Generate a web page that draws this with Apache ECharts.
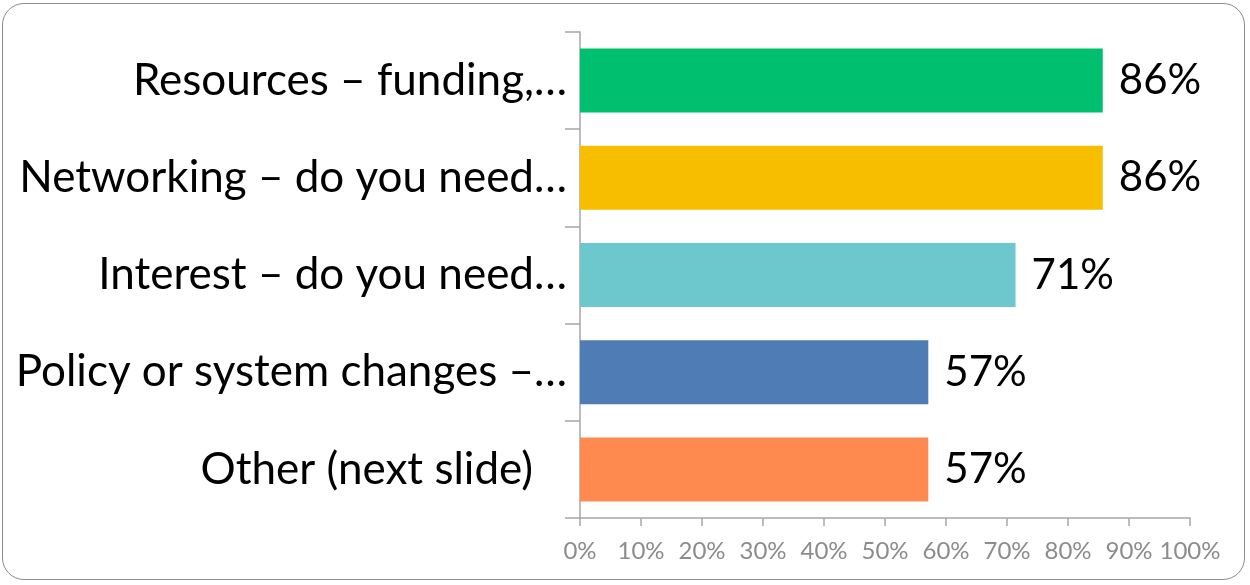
<!DOCTYPE html>
<html>
<head>
<meta charset="utf-8">
<script src="https://cdn.jsdelivr.net/npm/echarts@6/dist/echarts.min.js"></script>
<style>
html,body{margin:0;padding:0;background:#fff;}
#frame{position:absolute;left:2px;top:3px;width:1243px;height:577px;border:1.5px solid #8c8c8c;border-radius:22px;box-sizing:border-box;}
#chart{position:absolute;left:0;top:0;width:1250px;height:585px;}
</style>
</head>
<body>
<div id="frame"></div>
<div id="chart"></div>
<script>
const categories = ["Resources – funding,…", "Networking – do you need…", "Interest – do you need…", "Policy or system changes –…", "Other (next slide)"];
const values = [85.7, 85.7, 71.4, 57.1, 57.1];
const colors = ["#00BF6F", "#F7BE00", "#6CC8CD", "#507CB6", "#FF8A50"];
const xTicks = [0, 10, 20, 30, 40, 50, 60, 70, 80, 90, 100];

const chart = echarts.init(document.getElementById('chart'), null, {renderer: 'canvas'});
const font = 'Lato, "Open Sans", sans-serif';
chart.setOption({
  animation: false,
  grid: {left: 580, right: 60, top: 32, bottom: 67, containLabel: false},
  xAxis: {
    type: 'value', min: 0, max: 100, interval: 10,
    axisLine: {show: true, lineStyle: {color: '#a6a6a6', width: 1.5}},
    axisTick: {show: true, length: 8, lineStyle: {color: '#a6a6a6', width: 1.5}},
    splitLine: {show: false},
    axisLabel: {color: '#8c8c8c', fontFamily: font, fontSize: 24, margin: 21,
      formatter: v => xTicks.includes(v) ? v + '%' : ''}
  },
  yAxis: {
    type: 'category', inverse: true,
    data: categories.map((c, i) => i === categories.length - 1
      ? {value: c, textStyle: {padding: [0, 34, 0, 0]}} : c),
    axisLine: {show: true, lineStyle: {color: '#a6a6a6', width: 1.5}},
    axisTick: {show: true, length: 15, lineStyle: {color: '#a6a6a6', width: 1.5}},
    axisLabel: {color: '#000', fontFamily: font, fontSize: 44, margin: 13}
  },
  series: [{
    type: 'bar', barWidth: 64,
    data: values.map((v, i) => ({value: v, itemStyle: {color: colors[i]}})),
    label: {show: true, position: 'right', distance: 16, color: '#000',
      fontFamily: font, fontSize: 42,
      formatter: p => Math.round(p.value) + '%'}
  }]
});
</script>
</body>
</html>
